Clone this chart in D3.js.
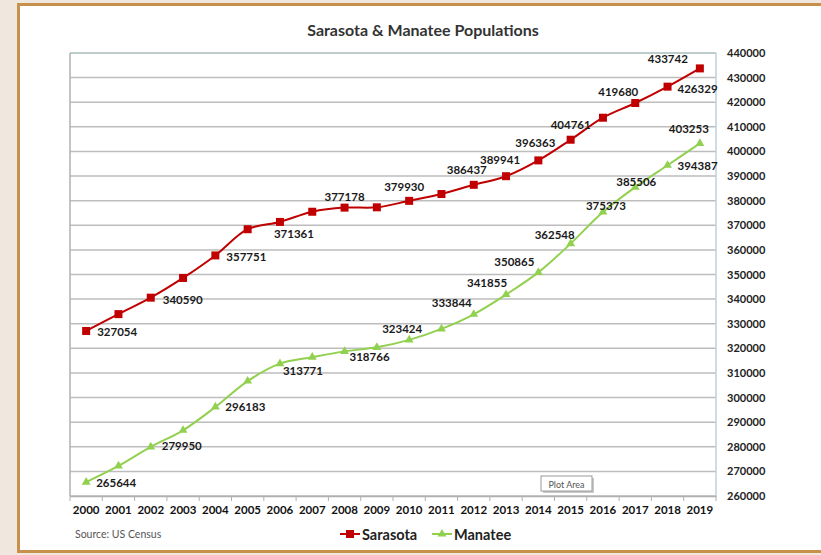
<!DOCTYPE html>
<html>
<head>
<meta charset="utf-8">
<script src="https://cdn.jsdelivr.net/npm/d3@7/dist/d3.min.js"></script>
<style>
  html, body { margin: 0; padding: 0; background: #f0e8df; }
  svg { display: block; }
</style>
</head>
<body>
<svg id="chart" width="821" height="555"></svg>
<script>
// Population by year, US Census estimates
const years = [2000, 2001, 2002, 2003, 2004, 2005, 2006, 2007, 2008, 2009,
               2010, 2011, 2012, 2013, 2014, 2015, 2016, 2017, 2018, 2019];
const sarasota = [327054, 333900, 340590, 348600, 357751, 368400, 371361, 375500, 377178, 377300,
                  379930, 382700, 386437, 389941, 396363, 404761, 413700, 419680, 426329, 433742];
const manatee = [265644, 272200, 279950, 286700, 296183, 306700, 313771, 316400, 318766, 320400,
                 323424, 327900, 333844, 341855, 350865, 362548, 375373, 385506, 394387, 403253];
const yTicks = [260000, 270000, 280000, 290000, 300000, 310000, 320000, 330000, 340000, 350000,
                360000, 370000, 380000, 390000, 400000, 410000, 420000, 430000, 440000];
const seriesNames = ["Sarasota", "Manatee"];
const sourceNote = "Source: US Census";
const chartTitle = "Sarasota & Manatee Populations";

// Which points carry a value label, and where the label sits relative to its marker
const sarasotaLabelOffsets = {
  2000: [31, 1], 2002: [32, 2], 2004: [31, 1], 2006: [14, 12], 2008: [0, -11],
  2010: [-5, -14], 2012: [-7, -15], 2013: [-6, -17], 2014: [-3, -18], 2015: [0, -15],
  2017: [-17, -12], 2018: [30, 2], 2019: [-32, -10]
};
const manateeLabelOffsets = {
  2000: [30, 0], 2002: [31, -1], 2004: [30, 0], 2006: [23, 7], 2008: [25, 5],
  2010: [-7, -11], 2012: [-22, -12], 2013: [-19, -12], 2014: [-24, -11], 2015: [-16, -9],
  2016: [3, -7], 2017: [1, -6], 2018: [30, 0], 2019: [-11, -15]
};

const RED = "#c00000";
const GREEN = "#92d050";
const FONT = "Lato, 'Open Sans', sans-serif";

const svg = d3.select("#chart");

// Card with gold frame
svg.append("rect").attr("x", 0).attr("y", 0).attr("width", 821).attr("height", 555).attr("fill", "#f0e8df");
svg.append("rect")
  .attr("x", 18.5).attr("y", 4.5).attr("width", 900).attr("height", 547)
  .attr("fill", "#ffffff").attr("stroke", "#c8914b").attr("stroke-width", 3);

const plot = { left: 70, right: 716, top: 53, bottom: 496 };

const x = d3.scaleBand().domain(years).range([plot.left, plot.right]).padding(0);
const y = d3.scaleLinear().domain([260000, 440000]).range([plot.bottom, plot.top]);
const cx = d => x(d) + x.bandwidth() / 2;

// Title
svg.append("text")
  .attr("x", 423).attr("y", 36)
  .attr("text-anchor", "middle")
  .attr("font-family", FONT).attr("font-weight", "bold").attr("font-size", 16)
  .attr("fill", "#333")
  .text(chartTitle);

// Horizontal gridlines
svg.append("g")
  .selectAll("line")
  .data(yTicks)
  .join("line")
  .attr("x1", plot.left).attr("x2", plot.right)
  .attr("y1", d => y(d)).attr("y2", d => y(d))
  .attr("stroke", "#bdbdbd").attr("stroke-width", 1.5);

// Plot area frame
svg.append("line").attr("x1", plot.left).attr("x2", plot.right).attr("y1", plot.top).attr("y2", plot.top)
  .attr("stroke", "#b7cdca").attr("stroke-width", 1.5);
svg.append("line").attr("x1", plot.right).attr("x2", plot.right).attr("y1", plot.top).attr("y2", plot.bottom)
  .attr("stroke", "#bdd0e2").attr("stroke-width", 1.5);
svg.append("line").attr("x1", plot.left).attr("x2", plot.left).attr("y1", plot.top).attr("y2", plot.bottom)
  .attr("stroke", "#b0b0b0").attr("stroke-width", 1.5);

// Right-hand value axis
const yAxis = d3.axisRight(y).tickValues(yTicks).tickSize(0).tickPadding(11).tickFormat(d3.format("d"));
const gy = svg.append("g").attr("transform", `translate(${plot.right},0)`).call(yAxis);
gy.select(".domain").remove();
gy.selectAll("text")
  .attr("font-family", FONT).attr("font-weight", "bold").attr("font-size", 11).attr("fill", "#222");

// Category axis along the bottom, ticks between years
const xAxis = d3.axisBottom(x).tickSize(0).tickPadding(10);
const gx = svg.append("g").attr("transform", `translate(0,${plot.bottom})`).call(xAxis);
gx.select(".domain").attr("stroke", "#b0b0b0").attr("stroke-width", 1.5);
gx.selectAll("text")
  .attr("font-family", FONT).attr("font-weight", "bold").attr("font-size", 11.5).attr("fill", "#111");
const boundaries = years.map(d => x(d)).concat([plot.right]);
svg.append("g").selectAll("line").data(boundaries).join("line")
  .attr("x1", d => d).attr("x2", d => d)
  .attr("y1", plot.bottom).attr("y2", plot.bottom + 5)
  .attr("stroke", "#b0b0b0").attr("stroke-width", 1);

// Series lines (smoothed as in the original spreadsheet chart)
const line = d3.line()
  .x((d, i) => cx(years[i]))
  .y(d => y(d))
  .curve(d3.curveCatmullRom.alpha(0.5));

svg.append("path").datum(sarasota).attr("d", line)
  .attr("fill", "none").attr("stroke", RED).attr("stroke-width", 2);
svg.append("path").datum(manatee).attr("d", line)
  .attr("fill", "none").attr("stroke", GREEN).attr("stroke-width", 2);

// Markers
svg.append("g").selectAll("rect").data(sarasota).join("rect")
  .attr("x", (d, i) => cx(years[i]) - 4).attr("y", d => y(d) - 4)
  .attr("width", 8).attr("height", 8).attr("fill", RED);

const tri = d3.symbol().type(d3.symbolTriangle).size(34);
svg.append("g").selectAll("path").data(manatee).join("path")
  .attr("d", tri)
  .attr("transform", (d, i) => `translate(${cx(years[i])},${y(d)})`)
  .attr("fill", GREEN);

// Value labels
function drawLabels(values, offsets) {
  const pts = years.map((yr, i) => ({ yr, v: values[i] })).filter(p => offsets[p.yr]);
  svg.append("g").selectAll("text").data(pts).join("text")
    .attr("x", p => cx(p.yr) + offsets[p.yr][0])
    .attr("y", p => y(p.v) + offsets[p.yr][1])
    .attr("text-anchor", "middle").attr("dominant-baseline", "central")
    .attr("font-family", FONT).attr("font-weight", "bold").attr("font-size", 11.5)
    .attr("fill", "#1a1a1a")
    .text(p => p.v);
}
drawLabels(sarasota, sarasotaLabelOffsets);
drawLabels(manatee, manateeLabelOffsets);

// "Plot Area" hover tag
const tag = svg.append("g").attr("transform", "translate(541,476)");
tag.append("rect").attr("x", 2).attr("y", 2).attr("width", 51).attr("height", 15).attr("fill", "#c8c8c8");
tag.append("rect").attr("x", 0).attr("y", 0).attr("width", 51).attr("height", 15)
  .attr("fill", "#ffffff").attr("stroke", "#9a9a9a").attr("stroke-width", 1);
tag.append("text").attr("x", 25.5).attr("y", 8).attr("text-anchor", "middle").attr("dominant-baseline", "central")
  .attr("font-family", FONT).attr("font-size", 9).attr("fill", "#555").text("Plot Area");

// Source note
svg.append("text").attr("x", 75).attr("y", 538)
  .attr("font-family", FONT).attr("font-size", 10.5).attr("fill", "#555")
  .text(sourceNote);

// Legend
const legend = svg.append("g");
const legendItems = [
  { name: seriesNames[0], color: RED, x0: 340, shape: "square" },
  { name: seriesNames[1], color: GREEN, x0: 432, shape: "triangle" }
];
legendItems.forEach(it => {
  const g = legend.append("g");
  g.append("line").attr("x1", it.x0).attr("x2", it.x0 + 20).attr("y1", 534).attr("y2", 534)
    .attr("stroke", it.color).attr("stroke-width", 2);
  if (it.shape === "square") {
    g.append("rect").attr("x", it.x0 + 6).attr("y", 530).attr("width", 8).attr("height", 8).attr("fill", it.color);
  } else {
    g.append("path").attr("d", tri).attr("transform", `translate(${it.x0 + 10},534)`).attr("fill", it.color);
  }
  g.append("text").attr("x", it.x0 + 22).attr("y", 534).attr("dominant-baseline", "central")
    .attr("font-family", FONT).attr("font-weight", "bold").attr("font-size", 14.5).attr("fill", "#222")
    .text(it.name);
});
</script>
</body>
</html>
